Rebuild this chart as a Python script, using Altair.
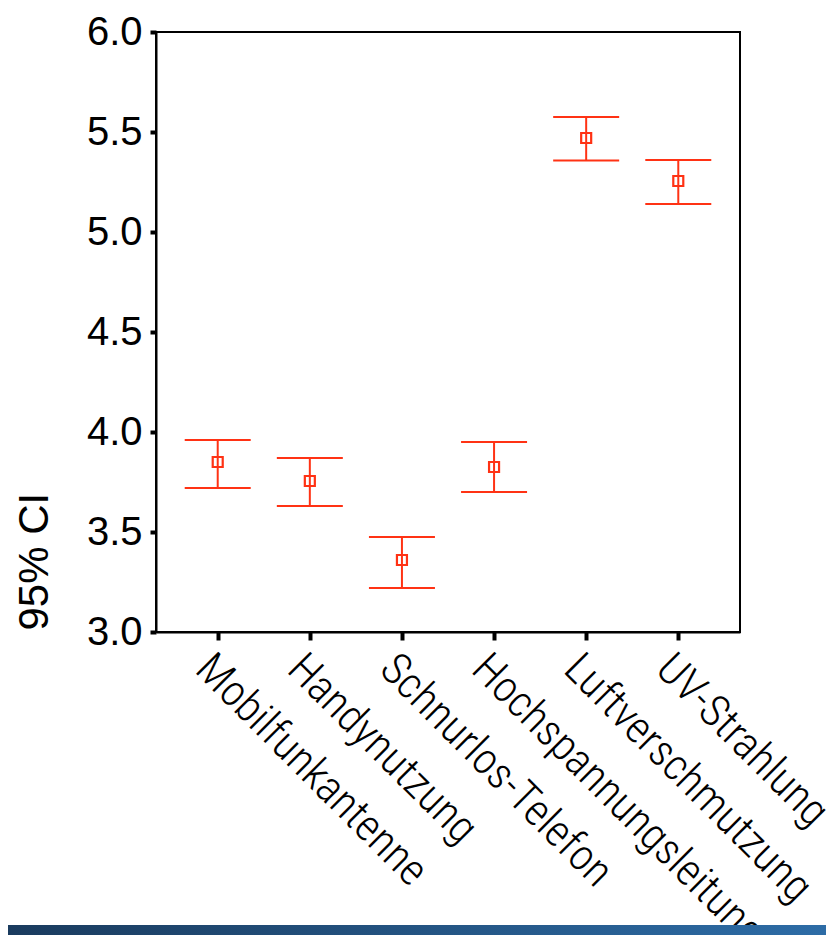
import altair as alt
import pandas as pd

categories = ["Mobilfunkantenne", "Handynutzung", "Schnurlos-Telefon",
              "Hochspannungsleitung", "Luftverschmutzung", "UV-Strahlung"]
means = [3.85, 3.755, 3.36, 3.825, 5.47, 5.255]
lowers = [3.72, 3.63, 3.22, 3.70, 5.358, 5.14]
uppers = [3.96, 3.87, 3.475, 3.95, 5.575, 5.36]
y_ticks = [3.0, 3.5, 4.0, 4.5, 5.0, 5.5, 6.0]

df = pd.DataFrame({"cat": categories, "mean": means, "lo": lowers, "hi": uppers})

RED = "#ff3214"
XFONT = "'Roboto Condensed', 'DejaVu Sans Condensed', 'Open Sans Condensed', 'Noto Sans Condensed', Roboto, sans-serif"

x_enc = alt.X(
    "cat:N", sort=categories,
    scale=alt.Scale(type="point", padding=0.67),
    axis=alt.Axis(title=None, labelAngle=45, labelAlign="left", labelBaseline="top",
                  labelFont=XFONT, labelFontSize=44, labelFontWeight=300, labelPadding=6,
                  labelColor="black", labelLimit=0, labelOverlap=False,
                  tickSize=8, tickWidth=4, tickColor="black",
                  domainColor="black", domainWidth=2),
)


def y_enc(field):
    return alt.Y(
        f"{field}:Q",
        scale=alt.Scale(domain=[3, 6], nice=False, zero=False),
        axis=alt.Axis(values=y_ticks, format=".1f", grid=False,
                      labelFont="Liberation Sans", labelFontSize=40, labelColor="black",
                      labelPadding=8, tickSize=6, tickWidth=4, tickColor="black",
                      domainColor="black", domainWidth=2,
                      title="95% CI", titleFont="Liberation Sans", titleFontSize=42,
                      titleFontWeight="normal", titleColor="black",
                      titleAngle=270, titleAlign="left", titleBaseline="alphabetic",
                      titleX=-109, titleY=598),
    )


base = alt.Chart(df)

rules = base.mark_rule(color=RED, strokeWidth=2).encode(x=x_enc, y=y_enc("lo"), y2="hi:Q")
caps_lo = base.mark_tick(color=RED, thickness=2, size=66, opacity=1).encode(x=x_enc, y=y_enc("lo"))
caps_hi = base.mark_tick(color=RED, thickness=2, size=66, opacity=1).encode(x=x_enc, y=y_enc("hi"))
points = base.mark_point(shape="square", size=100, filled=False, strokeWidth=2.2,
                         color=RED, opacity=1).encode(x=x_enc, y=y_enc("mean"))

bar = alt.Chart(pd.DataFrame({"a": [0]})).mark_rect(
    color=alt.Gradient(gradient="linear", x1=0, x2=1, y1=0, y2=0,
                       stops=[alt.GradientStop(offset=0, color="#1a3b5e"),
                              alt.GradientStop(offset=1, color="#2d6ca6")])
).encode(x=alt.value(-148), x2=alt.value(670), y=alt.value(893), y2=alt.value(905))

chart = alt.layer(rules, caps_lo, caps_hi, points, bar).properties(
    width=584, height=600,
    autosize=alt.AutoSizeParams(type="none"),
    padding={"left": 148, "top": 24, "right": 86, "bottom": 303},
    background="white",
).configure_view(stroke="black", strokeWidth=2)

chart.save("out.html", embed_options={"renderer": "svg", "actions": False})
